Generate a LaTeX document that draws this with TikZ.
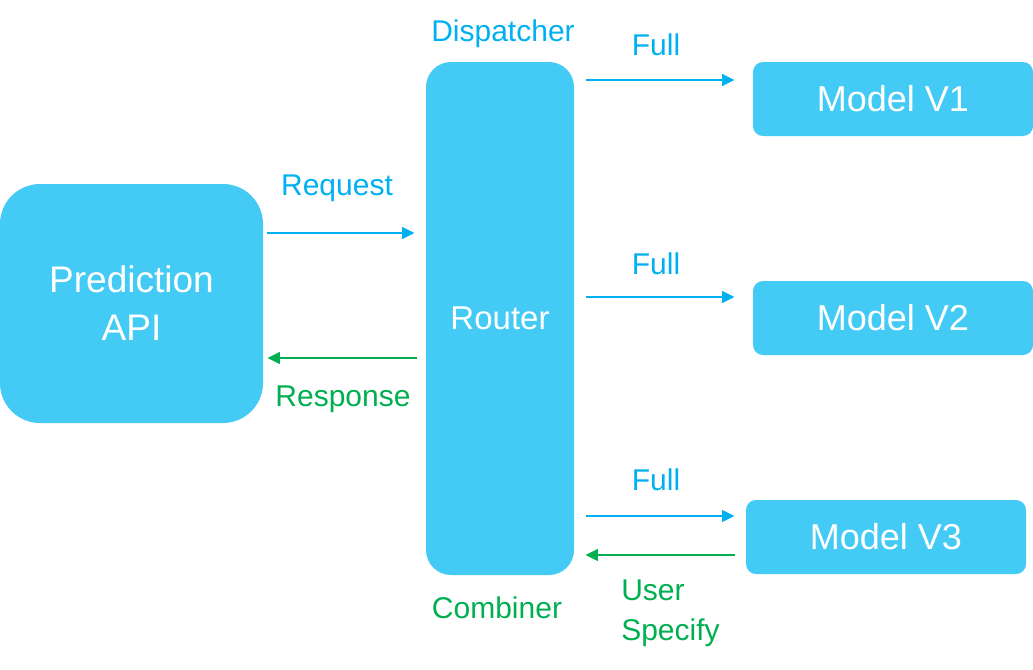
\documentclass[tikz,border=0pt]{standalone}
\usepackage{fontspec}
\setmainfont{Liberation Sans}
\definecolor{BoxCyan}{HTML}{44CBF5}
\definecolor{FlowBlue}{HTML}{00B0F0}
\definecolor{FlowGreen}{HTML}{00B050}
\usetikzlibrary{arrows.meta, calc}

\begin{document}
\begin{tikzpicture}[x=0.75pt, y=-0.75pt,
  box/.style={fill=BoxCyan, text=white, align=center, inner sep=0pt},
  model/.style={box, rounded corners=7.5pt, minimum width=210pt, minimum height=55.5pt,
                font=\fontsize{27}{32}\selectfont},
  lbl/.style={inner sep=0pt, font=\fontsize{22.5}{30}\selectfont},
  fwd/.style={-{Triangle[length=9.5pt, width=8.5pt]}, line width=2.1pt, FlowBlue},
  back/.style={-{Triangle[length=9.5pt, width=8.5pt]}, line width=2.1pt, FlowGreen}]
  \useasboundingbox (0,0) rectangle (1033,669);

  \node[box, rounded corners=30pt, minimum width=197.25pt, minimum height=179.25pt,
        font=\fontsize{27.75}{36}\selectfont] (api) at (131.5,303.5) {Prediction\\API};
  \node[box, rounded corners=18.75pt, minimum width=111pt, minimum height=384.75pt,
        font=\fontsize{24.75}{30}\selectfont] (router) at (500,318.5) {Router};
  \node[model] (v1) at (893,99) {Model V1};
  \node[model] (v2) at (893,318) {Model V2};
  \node[model] (v3) at (886,537) {Model V3};

  \node[lbl, text=FlowBlue] (dispatcher) at (503,34) {Dispatcher};
  \node[lbl, text=FlowGreen] (combiner) at (497,608) {Combiner};
  \node[lbl, text=FlowBlue] (request) at (337,188) {Request};
  \node[lbl, text=FlowGreen] (response) at (343,399) {Response};
  \node[lbl, text=FlowBlue] (full1) at (656,45) {Full};
  \node[lbl, text=FlowBlue] (full2) at (656,264) {Full};
  \node[lbl, text=FlowBlue] (full3) at (656,480) {Full};
  \node[lbl, text=FlowGreen, align=left, anchor=west] (specify) at (621,613) {User\\Specify};

  \draw[fwd] ($(api.east)+(4,-70.5)$) -- ($(router.west)+(-11,-85.5)$);
  \draw[back] ($(router.west)+(-9,39.5)$) -- ($(api.east)+(4,54.5)$);
  \draw[fwd] ($(router.east |- v1.west)+(12,-19)$) -- ($(v1.west)+(-18,-19)$);
  \draw[fwd] ($(router.east |- v2.west)+(12,-21)$) -- ($(v2.west)+(-18,-21)$);
  \draw[fwd] ($(router.east |- v3.west)+(12,-21)$) -- ($(v3.west)+(-11,-21)$);
  \draw[back] ($(v3.west)+(-11,18)$) -- ($(router.east |- v3.west)+(11,18)$);
\end{tikzpicture}
\end{document}
